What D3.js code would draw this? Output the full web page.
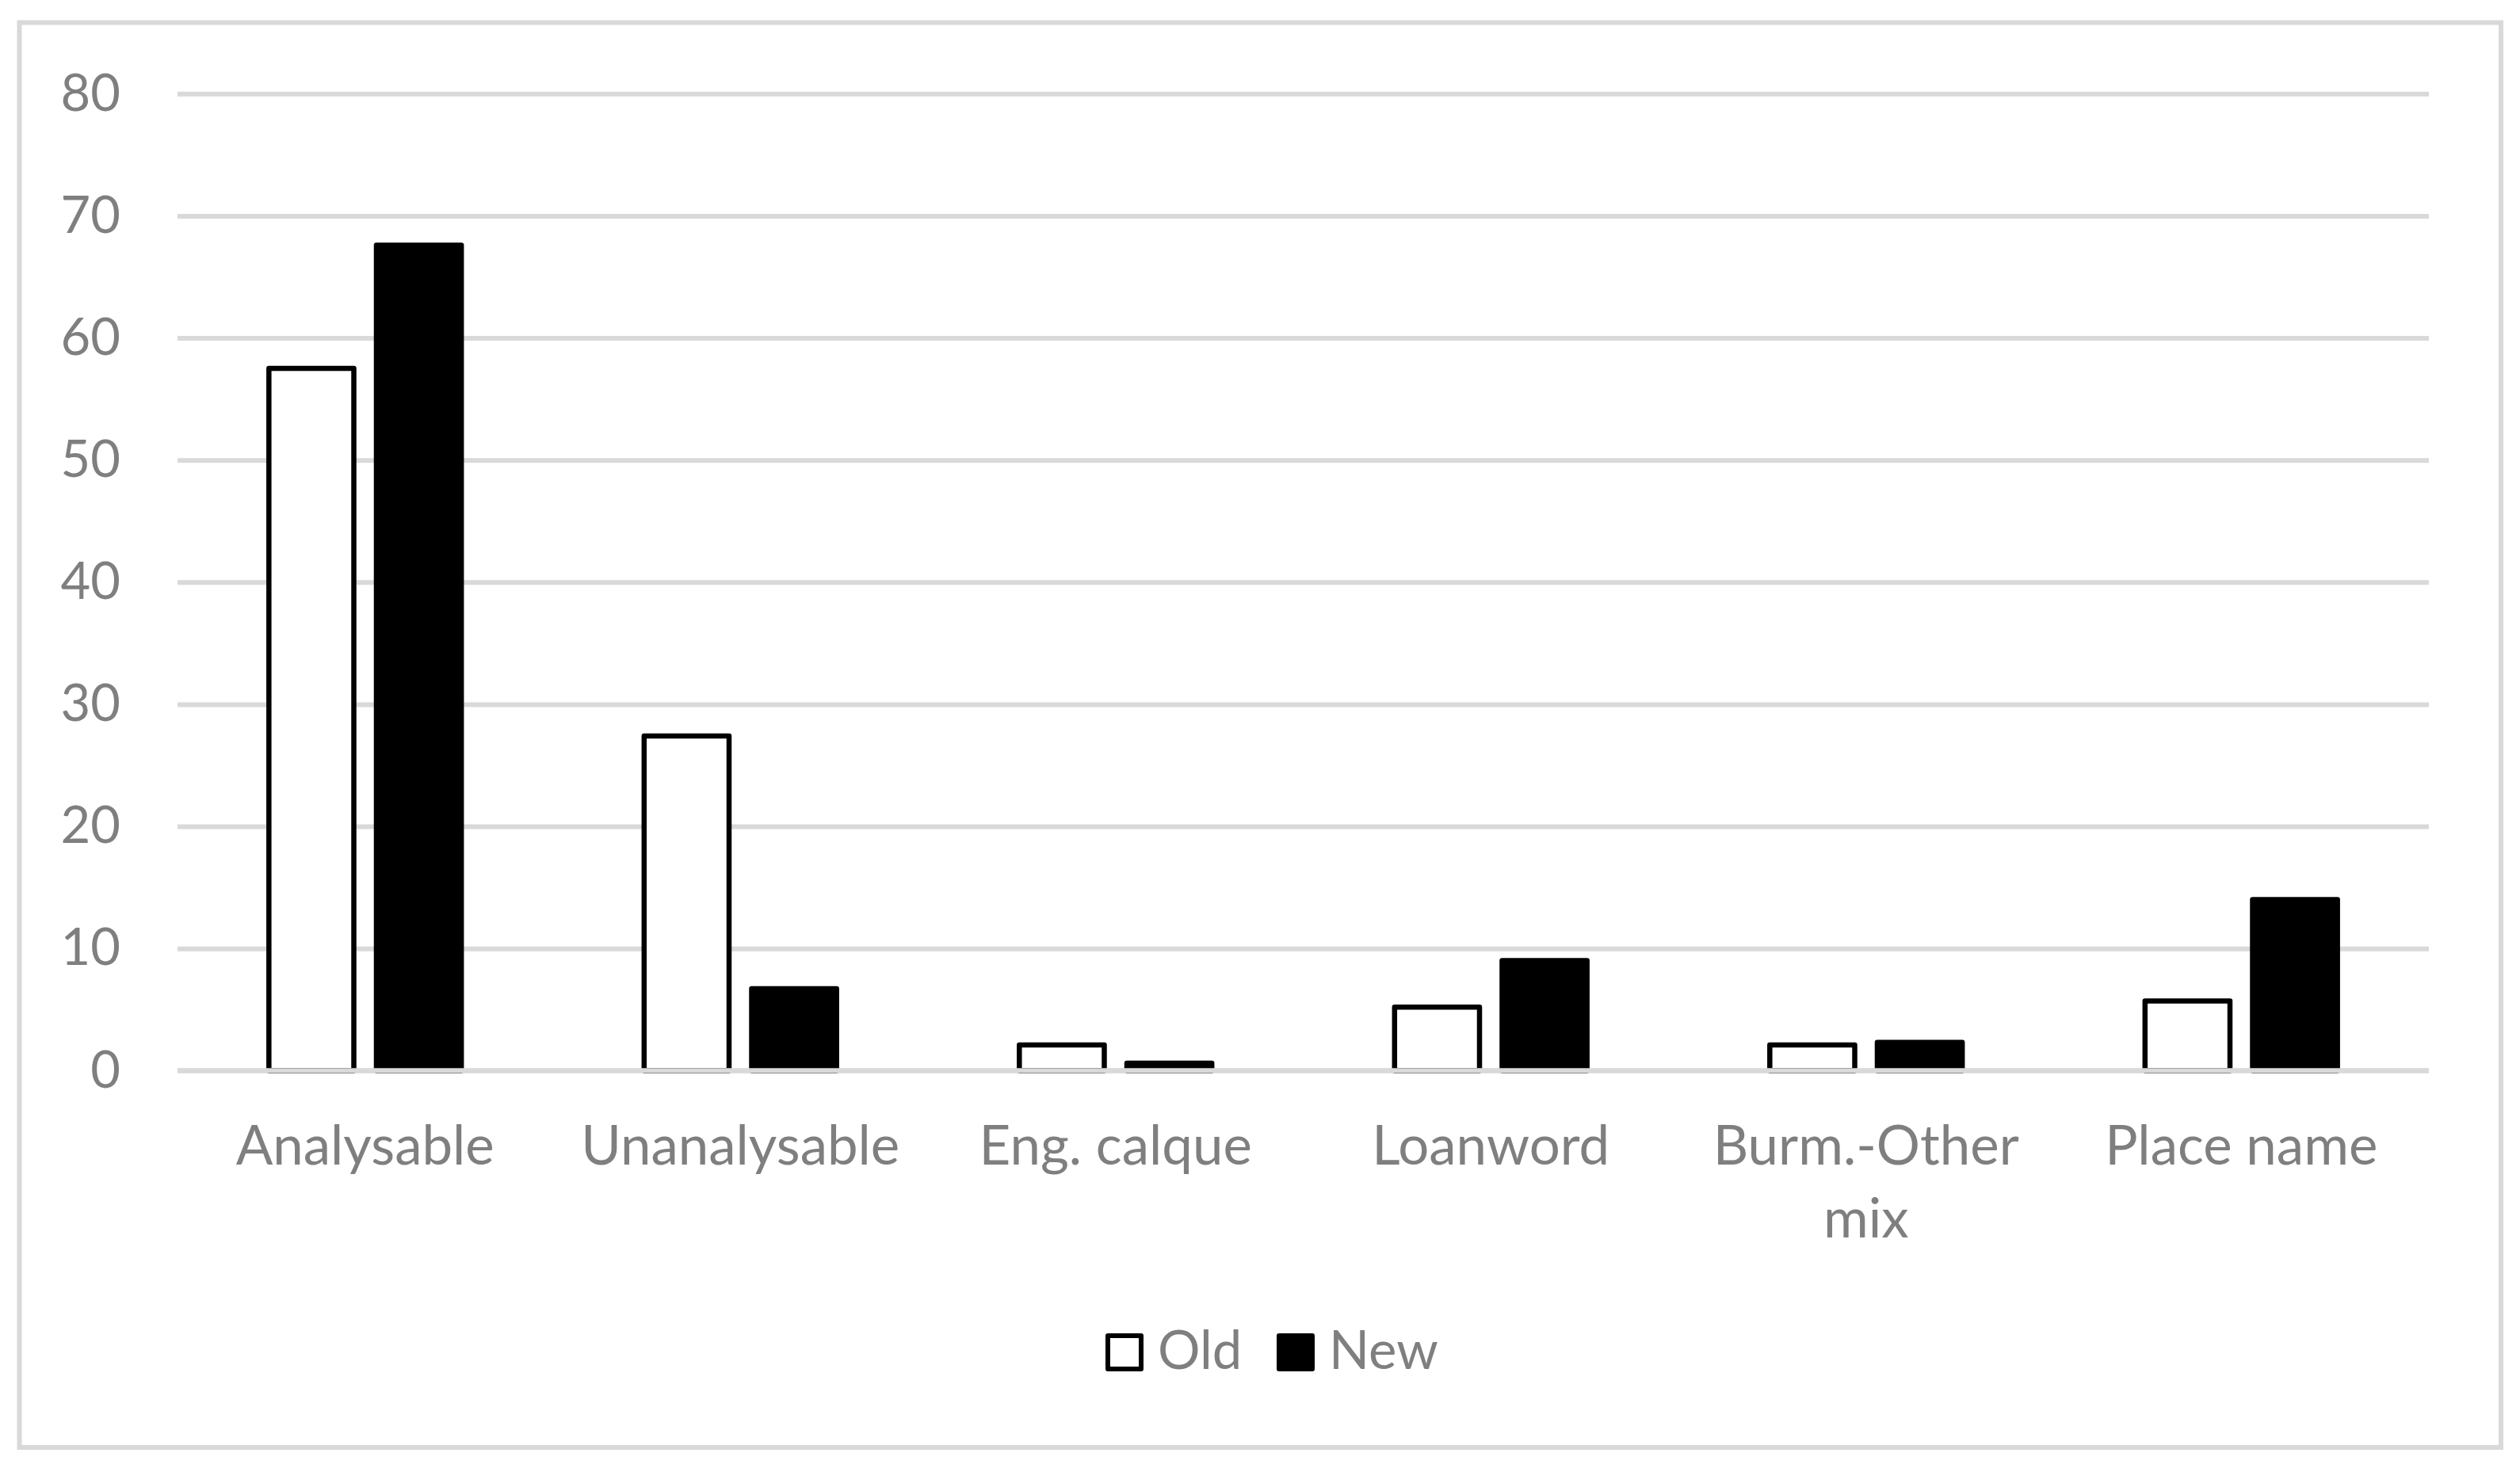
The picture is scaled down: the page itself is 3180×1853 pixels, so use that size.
<!DOCTYPE html>
<html>
<head>
<meta charset="utf-8">
<script src="https://cdn.jsdelivr.net/npm/d3@7"></script>
<style>
    body { margin: 0; background: #fff; }
    svg text { font-family: Lato, "Open Sans", sans-serif; fill: #7f7f7f; }
</style>
</head>
<body>
<div id="chart"></div>
<script>
var categories = ["Analysable", "Unanalysable", "Eng. calque", "Loanword", "Burm.-Other mix", "Place name"];
var seriesNames = ["Old", "New"];
var oldValues = [57.5, 27.4, 2.1, 5.2, 2.1, 5.7];
var newValues = [67.6, 6.7, 0.6, 9.0, 2.3, 14.0];
var yTicks = [0, 10, 20, 30, 40, 50, 60, 70, 80];

var width = 3180, height = 1853;

var svg = d3.select("#chart").append("svg:svg")
    .attr("width", width)
    .attr("height", height);

// chart frame
svg.append("rect")
    .attr("x", 24.5).attr("y", 28.5)
    .attr("width", 3131.5).attr("height", 1798.5)
    .attr("fill", "none")
    .attr("stroke", "#d9d9d9")
    .attr("stroke-width", 6);

var x0 = d3.scaleBand().domain(categories).range([224, 3065]);
var x1 = d3.scaleBand().domain(seriesNames).range([0, x0.bandwidth()])
    .paddingInner(0.21).paddingOuter(0.85);
var y = d3.scaleLinear().domain([0, 80]).range([1351.3, 118.3]);

var yAxis = d3.axisLeft(y).tickValues(yTicks).tickSize(-(3065 - 224)).tickPadding(72);
var gy = svg.append("g").attr("transform", "translate(224,0)").call(yAxis);
gy.select(".domain").remove();
gy.selectAll(".tick line").attr("stroke", "#d9d9d9").attr("stroke-width", 6);
gy.selectAll(".tick text")
    .attr("font-size", 65)
    .attr("fill", "#7f7f7f")
    .attr("font-family", "Lato, sans-serif");

var rows = categories.map(function(c, i) {
    return { cat: c, values: [
        { key: "Old", value: oldValues[i] },
        { key: "New", value: newValues[i] }
    ]};
});

var groups = svg.append("g").selectAll("g")
    .data(rows)
    .enter().append("g")
    .attr("transform", function(d) { return "translate(" + x0(d.cat) + ",0)"; });

groups.selectAll("rect")
    .data(function(d) { return d.values; })
    .enter().append("rect")
    .attr("x", function(d) { return x1(d.key); })
    .attr("y", function(d) { return y(d.value); })
    .attr("width", x1.bandwidth())
    .attr("height", function(d) { return y(0) - y(d.value); })
    .attr("fill", function(d) { return d.key == "Old" ? "#fff" : "#000"; })
    .attr("stroke", "#000")
    .attr("stroke-width", 6.5)
    .attr("stroke-linejoin", "round");

// axis line sits over the bar bottoms
svg.append("line")
    .attr("x1", 224).attr("x2", 3065)
    .attr("y1", y(0)).attr("y2", y(0))
    .attr("stroke", "#d9d9d9")
    .attr("stroke-width", 6);

// category labels, wrapped like Excel does
var labels = svg.append("g").selectAll("text")
    .data(categories)
    .enter().append("text")
    .attr("font-size", 69)
    .attr("text-anchor", "middle")
    .attr("x", function(d) { return x0(d) + x0.bandwidth() / 2; })
    .attr("y", 1470);

labels.each(function(d) {
    var t = d3.select(this);
    var words = d.split(" ");
    var line = [];
    var tspan = t.append("tspan").attr("x", t.attr("x")).attr("dy", 0);
    words.forEach(function(w) {
        line.push(w);
        tspan.text(line.join(" "));
        if (tspan.node().getComputedTextLength() > 440 && line.length > 1) {
            line.pop();
            tspan.text(line.join(" "));
            line = [w];
            tspan = t.append("tspan").attr("x", t.attr("x")).attr("dy", 92).text(w);
        }
    });
});

// legend
var legendItems = [
    { key: "Old", x: 1398, fill: "#fff" },
    { key: "New", x: 1614, fill: "#000" }
];
var legend = svg.append("g").selectAll("g")
    .data(legendItems)
    .enter().append("g");
legend.append("rect")
    .attr("x", function(d) { return d.x; })
    .attr("y", 1686)
    .attr("width", 42).attr("height", 42)
    .attr("fill", function(d) { return d.fill; })
    .attr("stroke", "#000")
    .attr("stroke-width", 6)
    .attr("stroke-linejoin", "round");
legend.append("text")
    .attr("x", function(d) { return d.x + 63; })
    .attr("y", 1728)
    .attr("font-size", 67)
    .text(function(d) { return d.key; });
</script>
</body>
</html>
